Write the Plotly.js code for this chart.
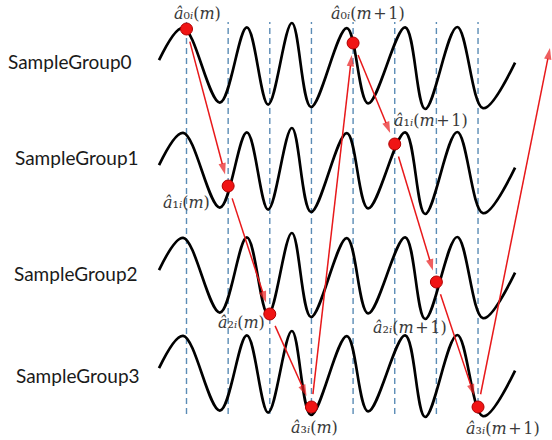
<!DOCTYPE html>
<html><head><meta charset="utf-8">
<script src="https://cdn.plot.ly/plotly-3.0.1.min.js"></script>
<style>html,body{margin:0;padding:0;background:#fff}</style>
</head><body><div id="chart" style="width:552px;height:440px"></div>
<script>
// ---- data ----
const groupNames = ['SampleGroup0', 'SampleGroup1', 'SampleGroup2', 'SampleGroup3'];
const groupCenter = [9.375, 6.75, 4.125, 1.675];
// wave shape: extrema (time in sample units, amplitude)
const waveT = [-0.66, -0.08, 0.80, 1.45, 1.96, 2.53, 2.99, 3.85, 4.36, 5.25, 5.73, 6.50, 7.12, 7.89];
const waveV = [0.12, 0.93, -0.94, 0.94, -0.99, 1.05, -1.05, 0.92, -0.96, 0.94, -1.10, 0.95, -1.08, 0.06];
// sampling instants (dashed lines)
const sampleIdx = [0, 1, 2, 3, 4, 5, 6, 7];
const dashSpan = [0.65, 10.45];
// selected samples
const pointT = [0, 1, 2, 3, 4, 5, 6, 7];
const pointY = [10.275, 6.35, 3.15, 0.825, 9.925, 7.4, 3.95, 0.825];
const pointLabels = [
  '<i>â</i>₀<i>ᵢ</i>(<i>m</i>)', '<i>â</i>₁<i>ᵢ</i>(<i>m</i>)',
  '<i>â</i>₂<i>ᵢ</i>(<i>m</i>)', '<i>â</i>₃<i>ᵢ</i>(<i>m</i>)',
  '<i>â</i>₀<i>ᵢ</i>(<i>m</i>\u200a+\u200a1)', '<i>â</i>₁<i>ᵢ</i>(<i>m</i>\u200a+\u200a1)',
  '<i>â</i>₂<i>ᵢ</i>(<i>m</i>\u200a+\u200a1)', '<i>â</i>₃<i>ᵢ</i>(<i>m</i>\u200a+\u200a1)'
];
const nextTarget = [8.727, 9.8];

// ---- styling / layout ----
const labelDx = [11, -42, -28, 3, 15, 36, -26, 25];
const labelDy = [-16, 16, 8, 20, -30, -24, 45, 21];
const groupLabelPx = [[70, 62], [77, 157], [76, 273], [78, 375]];
const RED = '#e8191b';
const xr = [-4.478, 8.776], yr = [0, 11];
const sx = 552 / (xr[1] - xr[0]), sy = 440 / (yr[1] - yr[0]);

const traces = [];
const dx = [], dy = [];
sampleIdx.forEach(k => { dx.push(k, k, null); dy.push(dashSpan[0], dashSpan[1], null); });
traces.push({x: dx, y: dy, mode: 'lines', hoverinfo: 'skip',
  line: {color: '#5b8cb6', width: 1.4, dash: '6px,4px'}});
groupCenter.forEach(c => {
  traces.push({x: waveT, y: waveV.map(v => v + c), mode: 'lines', hoverinfo: 'skip',
    line: {color: '#000', width: 2.7, shape: 'spline', smoothing: 1}});
});

function arrowTrace(t0, y0, t1, y1, s0, s1) {
  const dxp = (t1 - t0) * sx, dyp = (y1 - y0) * sy, L = Math.hypot(dxp, dyp);
  const ux = dxp / L, uy = dyp / L;
  return {x: [t0 + ux * s0 / sx, t1 - ux * s1 / sx], y: [y0 + uy * s0 / sy, y1 - uy * s1 / sy],
    mode: 'lines+markers', hoverinfo: 'skip', line: {color: RED, width: 1.5},
    marker: {symbol: ['circle', 'arrow'], size: [0, 12], angleref: 'previous', color: RED, line: {width: 0}}};
}
for (let i = 0; i < pointT.length; i++) {
  const last = i === pointT.length - 1;
  const hx = last ? nextTarget[0] : pointT[i + 1];
  const hy = last ? nextTarget[1] : pointY[i + 1];
  traces.push(arrowTrace(pointT[i], pointY[i], hx, hy, 13, last ? 0 : 12));
}
traces.push({x: pointT, y: pointY, mode: 'markers', hoverinfo: 'skip',
  marker: {size: 12, color: '#f01414', line: {color: '#b00000', width: 1}}});

const ann = [];
groupNames.forEach((g, i) => ann.push({
  text: g, xref: 'paper', yref: 'paper', x: groupLabelPx[i][0] / 552, y: 1 - groupLabelPx[i][1] / 440,
  xanchor: 'center', yanchor: 'middle', showarrow: false,
  font: {family: 'Lato, sans-serif', size: 19, color: '#1a1a1a'}}));
pointLabels.forEach((t, i) => ann.push({
  text: t, xref: 'x', yref: 'y', x: pointT[i], y: pointY[i], xshift: labelDx[i], yshift: -labelDy[i],
  xanchor: 'center', yanchor: 'middle', showarrow: false,
  font: {family: 'DejaVu Serif, serif', size: 16, color: '#3a3a3a'}}));

const layout = {
  width: 552, height: 440, margin: {l: 0, r: 0, t: 0, b: 0},
  paper_bgcolor: '#fff', plot_bgcolor: '#fff', showlegend: false,
  xaxis: {range: xr, visible: false, fixedrange: true},
  yaxis: {range: yr, visible: false, fixedrange: true},
  annotations: ann
};
Plotly.newPlot('chart', traces, layout, {staticPlot: true, displayModeBar: false});
</script></body></html>
